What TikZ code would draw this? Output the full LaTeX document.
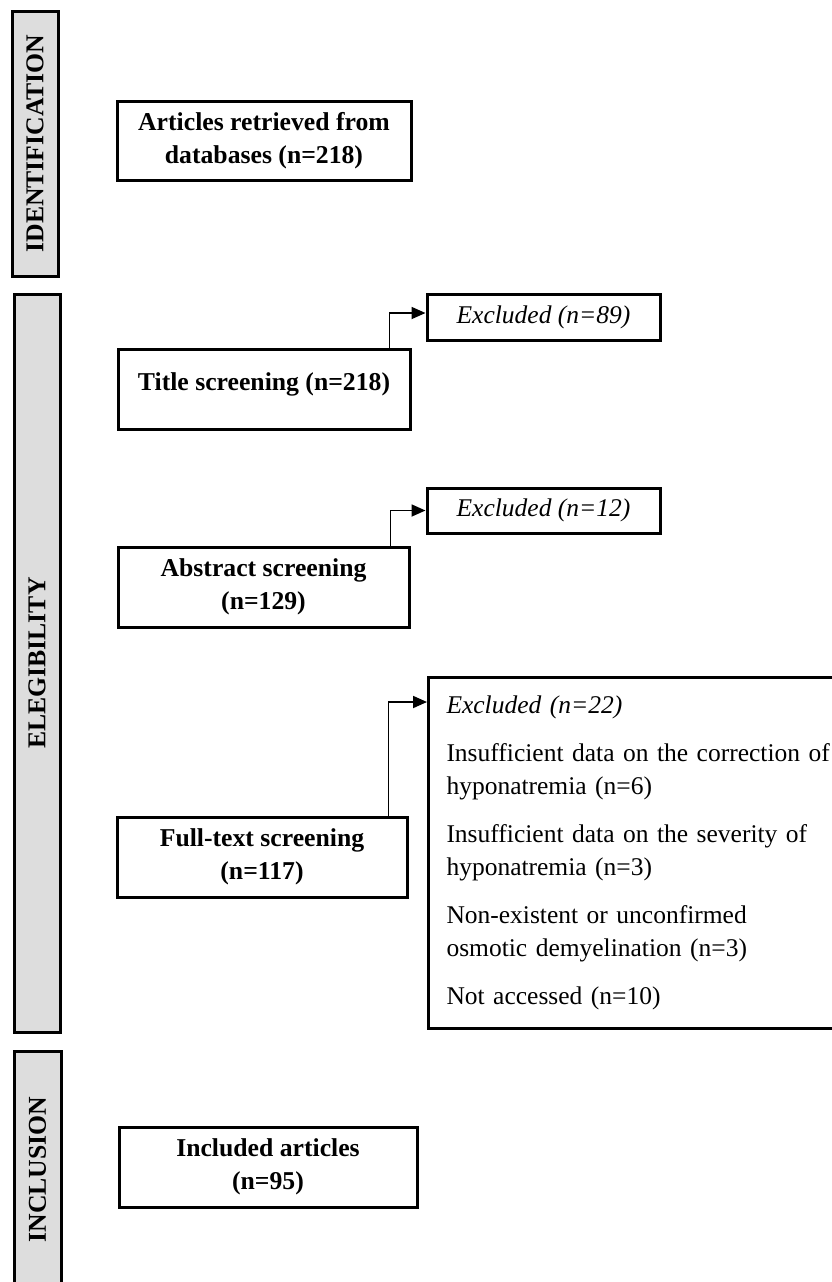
\documentclass[tikz,border=0pt]{standalone}
\usepackage{fontspec}
\setmainfont{Liberation Serif}
\usetikzlibrary{arrows.meta,calc}
\definecolor{bargray}{HTML}{DDDDDD}
\begin{document}
\begin{tikzpicture}[x=1pt,y=-1pt,
  font=\fontsize{25.5}{33}\selectfont,
  phasebar/.style={draw, line width=3pt, fill=bargray, rotate=90, inner sep=0pt, font=\fontsize{25.7}{33}\selectfont\bfseries},
  stagebox/.style={draw, line width=3pt, inner sep=0pt, align=center, font=\fontsize{25.7}{33}\selectfont\bfseries},
  exbox/.style={draw, line width=3pt, inner sep=0pt, align=center, font=\fontsize{25.5}{33}\selectfont\itshape},
  conn/.style={line width=1.8pt, -{Triangle[length=14pt,width=12pt]}}
]
\useasboundingbox (0,0) rectangle (832,1282);

% phase bars
\node[phasebar, minimum width=265pt, minimum height=46pt] (idbar) at (35,143.5) {IDENTIFICATION};
\node[phasebar, minimum width=738pt, minimum height=46pt] (elbar) at (37,663) {ELEGIBILITY};
\node[phasebar, minimum width=237pt, minimum height=47pt] (inbar) at (37.5,1169.5) {INCLUSION};

% main boxes
\node[stagebox, minimum width=294pt, minimum height=79pt] (b1) at (264,140.5) {Articles retrieved from\\databases (n=218)};
\node[stagebox, minimum width=292pt, minimum height=80pt] (b2) at (264,389) {\raisebox{14pt}{Title screening (n=218)}};
\node[stagebox, minimum width=291pt, minimum height=80pt] (b3) at (263.5,587) {Abstract screening\\(n=129)};
\node[stagebox, minimum width=290pt, minimum height=80pt] (b4) at (262,857) {Full-text screening\\(n=117)};
\node[stagebox, minimum width=298pt, minimum height=80pt] (b5) at (268,1167) {Included articles\\(n=95)};

% exclusion boxes
\node[exbox, minimum width=233pt, minimum height=46pt] (e1) at (543.5,317) {Excluded (n=89)};
\node[exbox, minimum width=233pt, minimum height=45pt] (e2) at (543.5,510.5) {Excluded (n=12)};
\node[draw, line width=3pt, anchor=north west, text width=395pt, inner xsep=18pt, inner ysep=0pt,
      minimum height=351pt, align=left] (e3) at (427,676)
  {\textit{Excluded (n=22)}\\[15pt]
   Insufficient data on the correction of\\hyponatremia (n=6)\\[15pt]
   Insufficient data on the severity of\\hyponatremia (n=3)\\[15pt]
   Non-existent or unconfirmed\\osmotic demyelination (n=3)\\[15pt]
   Not accessed (n=10)};

% connectors
\draw[conn] ($(b2.north east)+(-22,0)$) |- ([yshift=4pt]e1.west);
\draw[conn] ($(b3.north east)+(-20,0)$) |- (e2.west);
\draw[conn] ($(b4.north east)+(-20,0)$) |- ([yshift=-26pt]e3.north west);
\end{tikzpicture}
\end{document}
